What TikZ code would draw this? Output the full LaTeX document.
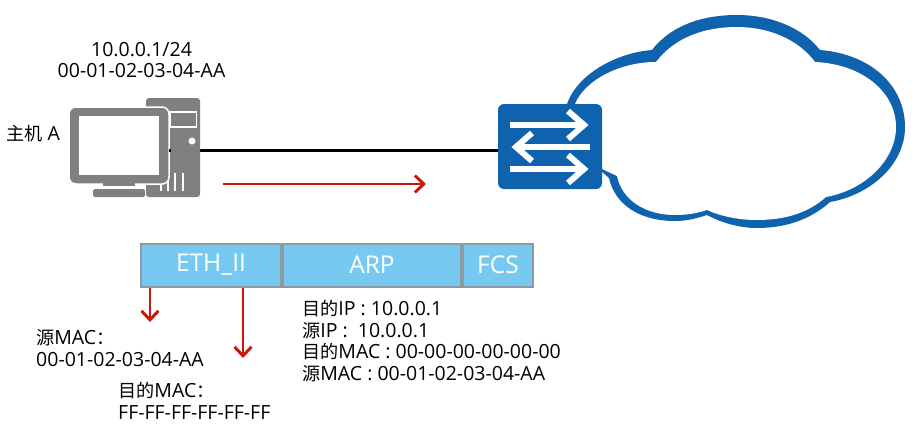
\documentclass[tikz,border=0pt]{standalone}
\usepackage{fontspec}
\setmainfont{Open Sans}
\newfontfamily\cjk[Scale=0.93]{Noto Sans CJK SC}
\newcommand{\zh}[1]{{\cjk #1}}
\usetikzlibrary{calc,positioning,arrows.meta}
\definecolor{swblue}{HTML}{0F62AE}
\definecolor{hostgray}{HTML}{808080}
\definecolor{fieldblue}{HTML}{78C9F2}
\definecolor{fieldline}{HTML}{8C9AA3}
\definecolor{flowred}{HTML}{C8190A}
\tikzset{
lbl/.style={inner sep=0pt,anchor=west,align=left,font=\fontsize{19.5}{21.6}\selectfont},
field/.style={draw=fieldline,line width=2pt,fill=fieldblue,text=white,minimum height=43pt,inner sep=0pt,font=\fontsize{24.5}{28}\selectfont},
flow/.style={draw=flowred,line width=2.7pt,-{Straight Barb[length=9pt,width=17pt,line width=3pt]}},
swarrow/.style={draw=white,line width=6pt},
}
\begin{document}
\begin{tikzpicture}[x=1pt,y=-1pt]
\useasboundingbox (0,0) rectangle (912,436);
% cloud, outer edge then inner edge
\fill[swblue] (560,125) -- (567,104) .. controls (577,75) and (615,53) .. (652,50)
.. controls (672,24) and (705,15) .. (737,15)
.. controls (770,15) and (802,27) .. (820,50)
.. controls (870,54) and (905,85) .. (905,127)
.. controls (905,165) and (870,195) .. (830,202)
.. controls (810,220) and (785,228) .. (757,228)
.. controls (738,228) and (720,222) .. (707,215)
.. controls (695,219) and (685,221) .. (675,221)
.. controls (640,221) and (615,205) .. (609,178)
-- (600,170) -- cycle;
\fill[white] (575,110) -- (575,104) .. controls (585,80) and (620,62) .. (656,62)
.. controls (675,37) and (705,27) .. (737,27)
.. controls (768,27) and (798,39) .. (815,62)
.. controls (862,64) and (896,92) .. (896,127)
.. controls (896,160) and (865,190) .. (826,197)
.. controls (808,213) and (785,220) .. (757,220)
.. controls (738,220) and (720,216) .. (707,210)
.. controls (695,214) and (685,215) .. (675,215)
.. controls (645,215) and (622,200) .. (617,176)
-- (600,168) -- cycle;
% switch
\node[fill=swblue,rounded corners=6pt,minimum width=104pt,minimum height=85pt,inner sep=0pt](sw) at (550,146.5){};
\draw[swarrow] (510,125) -- (584,125);
\draw[swarrow] (568,111) -- (584,125) -- (568,139);
\draw[swarrow] (590,147) -- (516,147);
\draw[swarrow] (532,133) -- (516,147) -- (532,161);
\draw[swarrow] (510,169) -- (584,169);
\draw[swarrow] (568,155) -- (584,169) -- (568,183);
% host
\coordinate(port) at (168,150);
\coordinate(swport) at (sw.west |- port);
\path [draw,line width=3pt] (port) edge (swport);
\node[fill=hostgray,rounded corners=3pt,minimum width=54pt,minimum height=99pt,inner sep=0pt](tower) at (173,147.5){};
\draw[white,line width=1.5pt] (170,112) rectangle (196.5,127);
\fill[white] (192,141) circle (3.5pt);
\foreach \vx in {161,168,175,183}
\draw[white,line width=1.7pt] (\vx,173) -- (\vx,191);
\node[fill=hostgray,draw=white,line width=1.5pt,rounded corners=7pt,minimum width=100pt,minimum height=77pt,inner sep=0pt](pc) at (119,145.5){};
\node[fill=white,minimum width=80pt,minimum height=59pt,inner sep=0pt](screen) at (119,145.5){};
\fill[hostgray] (103,183) rectangle (135,186);
\node[fill=hostgray,rounded corners=2pt,minimum width=52pt,minimum height=8pt,inner sep=0pt](base) at (119,193){};
\fill[black] (168.5,148.5) rectangle (171,151.5);
\node[lbl](name) at (6,134) {\zh{主机}~A};
\node[lbl,anchor=center,align=center](addr) at (141.5,60) {10.0.0.1/24\\00-01-02-03-04-AA};
% frame fields
\node[field,minimum width=140pt](eth) at (211,265) {ETH\_II};
\node[field,minimum width=178pt](arp) at (372,265) {ARP};
\node[field,minimum width=70pt](fcs) at (498,265) {FCS};
\node[lbl](arpinfo) at (302,341) {\zh{目的}IP : 10.0.0.1\\\zh{源}IP :~~10.0.0.1\\\zh{目的}MAC : 00-00-00-00-00-00\\\zh{源}MAC : 00-01-02-03-04-AA};
\node[lbl](srcmac) at (36,348) {\zh{源}MAC\zh{：}\\00-01-02-03-04-AA};
\node[lbl](dstmac) at (118,401) {\zh{目的}MAC\zh{：}\\FF-FF-FF-FF-FF-FF};
% red arrows
\coordinate(flowa) at (223,184);
\coordinate(flowb) at (426,184);
\coordinate(srctip) at (150,322);
\coordinate(dsttip) at (243,358);
\path (flowa) edge [flow] (flowb)
(srctip |- eth.south) edge [flow] (srctip)
(dsttip |- eth.south) edge [flow] (dsttip);
\end{tikzpicture}
\end{document}
